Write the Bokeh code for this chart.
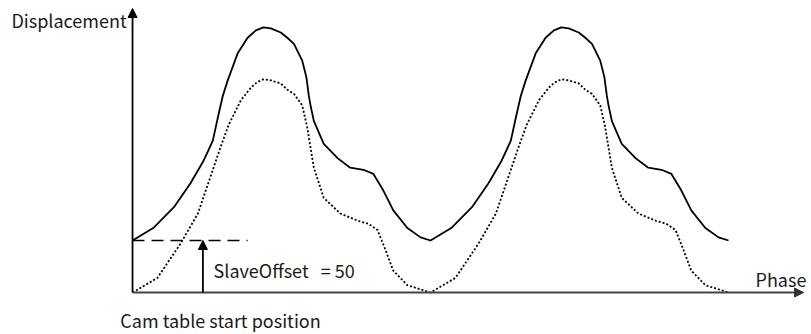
from bokeh.plotting import figure
from bokeh.models import Range1d, Arrow, NormalHead, Label
from bokeh.embed import file_html
from bokeh.resources import INLINE

# ---- data (phase in degrees, displacement in arbitrary units) ----
solid_phase = [0, 25, 50, 70, 86, 97, 103, 109, 115, 127, 139, 149, 158, 167, 179, 187, 195, 205, 210, 213, 215,
               219, 231, 248, 263, 279, 291, 303, 315, 332, 348, 360,
               385, 410, 430, 446, 457, 463, 469, 475, 487, 499, 509, 518, 527, 539, 547, 555, 565, 570, 573,
               575, 579, 591, 608, 623, 639, 651, 663, 675, 692, 708, 720]
solid_disp = [50, 62, 82, 105, 127, 146, 168, 189, 204, 230, 245, 252, 255, 254, 250, 245, 239, 223, 207, 189, 180,
              165, 143, 129, 120, 118, 114, 98, 79, 62, 53, 50,
              62, 82, 105, 127, 146, 168, 189, 204, 230, 245, 252, 255, 254, 250, 245, 239, 223, 207, 189,
              180, 165, 143, 129, 120, 118, 114, 98, 79, 62, 53, 50]

dotted_phase = [0, 30, 58, 79, 94, 106, 116, 131, 143, 150, 158, 167, 179, 187, 195, 205, 211, 219, 231, 251,
                272, 285, 296, 306, 315, 332, 360,
                390, 418, 439, 454, 466, 476, 491, 503, 510, 518, 527, 539, 547, 555, 565, 571, 579, 591, 611,
                632, 645, 656, 666, 675, 692, 720]
dotted_disp = [0, 14, 47, 76, 111, 139, 161, 185, 197, 202, 205, 204, 201, 195, 191, 180, 159, 120, 91, 76,
               69, 66, 60, 40, 21, 7, 0,
               14, 47, 76, 111, 139, 161, 185, 197, 202, 205, 204, 201, 195, 191, 180, 159, 120, 91, 76,
               69, 66, 60, 40, 21, 7, 0]

slave_offset = 50
offset_line_end = 139
start_phase = 85

y_label = "Displacement"
x_label = "Phase"
offset_label = "SlaveOffset\u00a0\u00a0 = 50"
start_label = "Cam table start position"

# ---- figure ----
X0, X1 = -159.5, 820.2
Y0, Y1 = -40.4, 280.8
W, H = 811, 334
Y_TIP = 273.1
X_TIP = 810.6

p = figure(width=W, height=H, x_range=Range1d(X0, X1), y_range=Range1d(Y0, Y1),
           x_axis_type=None, y_axis_type=None, output_backend="svg",
           toolbar_location=None, min_border=0)
p.grid.visible = False
p.outline_line_color = None
p.background_fill_color = "white"
p.border_fill_color = "white"

FONT = "Noto Sans CJK SC"

# axes drawn as arrows
p.add_layout(Arrow(end=NormalHead(size=9, fill_color="black", line_color="black"),
                   x_start=0, y_start=0, x_end=0, y_end=Y_TIP,
                   line_color="black", line_width=1.8))
p.add_layout(Arrow(end=NormalHead(size=9, fill_color="#333333", line_color="#333333"),
                   x_start=0, y_start=0, x_end=X_TIP, y_end=0,
                   line_color="#444444", line_width=2.2))

# curves
p.line(solid_phase, solid_disp, line_color="black", line_width=1.8, line_join="round")
p.line(dotted_phase, dotted_disp, line_color="black", line_width=1.8, line_dash="2 2")

# offset dashed line and arrow
p.line([0, offset_line_end], [slave_offset, slave_offset], line_color="black",
       line_width=1.6, line_dash="12 7")
p.add_layout(Arrow(end=NormalHead(size=9, fill_color="black", line_color="black"),
                   x_start=start_phase, y_start=0, x_end=start_phase, y_end=slave_offset,
                   line_color="black", line_width=1.8))

# labels
p.add_layout(Label(x=-76.7, y=262.3, text=y_label, text_font=FONT, text_font_size="18px",
                   text_align="center", text_baseline="alphabetic", text_color="#1a1a1a"))
p.add_layout(Label(x=814.0, y=12.5, text=x_label, text_font=FONT, text_font_size="18px",
                   text_align="right", text_baseline="alphabetic", text_color="#1a1a1a"))
p.add_layout(Label(x=97.9, y=22.1, text=offset_label, text_font=FONT, text_font_size="18px",
                   text_align="left", text_baseline="alphabetic", text_color="#1a1a1a"))
p.add_layout(Label(x=106.3, y=-26.5, text=start_label, text_font=FONT, text_font_size="18px",
                   text_align="center", text_baseline="alphabetic", text_color="#1a1a1a"))

open("out.html", "w").write(file_html(p, INLINE))
